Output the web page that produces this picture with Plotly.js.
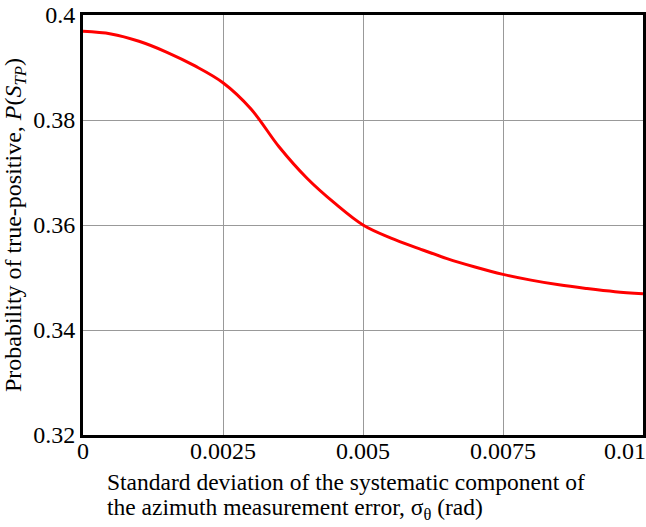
<!DOCTYPE html>
<html><head><meta charset="utf-8">
<script src="https://cdn.plot.ly/plotly-3.0.1.min.js"></script>
<style>body{margin:0;background:#fff}</style>
</head><body><div id="chart" style="width:646px;height:527px"></div>
<script>
const sigma = [0, 0.0005, 0.001, 0.0015, 0.002, 0.0025, 0.003, 0.0035, 0.004, 0.0045, 0.005, 0.0055, 0.006, 0.0065, 0.007, 0.0075, 0.008, 0.0085, 0.009, 0.0095, 0.01];
const prob  = [0.3969, 0.3964, 0.3950, 0.3929, 0.3903, 0.3871, 0.3821, 0.3749, 0.3689, 0.3641, 0.3600, 0.3575, 0.3555, 0.3536, 0.3520, 0.3506, 0.3495, 0.3486, 0.3479, 0.3473, 0.3469];
const xTickVals = [0, 0.0025, 0.005, 0.0075, 0.01];
const xTickText = ["0", "0.0025", "0.005", "0.0075", "0.01\u00a0\u00a0\u00a0\u00a0\u00a0\u00a0"];
const yTickVals = [0.32, 0.34, 0.36, 0.38, 0.4];
const yTickText = ["0.32", "0.34", "0.36", "0.38", "0.4"];
const xTitleLines = ["Standard deviation of the systematic component of", "the azimuth measurement error, σ<sub>θ</sub> (rad)"];
const yTitle = "Probability of true-positive, <i>P</i>(<i>S<sub>TP</sub></i>)";

const F = "Liberation Serif, Times New Roman, serif";
Plotly.newPlot("chart", [{
  x: sigma, y: prob, type: "scatter", mode: "lines",
  line: {color: "#ff0000", width: 3, shape: "spline", smoothing: 1}
}], {
  width: 646, height: 527,
  margin: {l: 83, r: 3, t: 15, b: 92},
  paper_bgcolor: "#fff", plot_bgcolor: "#fff",
  showlegend: false,
  font: {family: F, color: "#000", size: 24},
  xaxis: {
    range: [0, 0.01], tickvals: xTickVals, ticktext: xTickText,
    showgrid: true, gridcolor: "#999", gridwidth: 1,
    showline: true, linecolor: "#000", linewidth: 3, mirror: true,
    ticks: "", zeroline: false, tickfont: {family: F, size: 24},
    ticklabeloverflow: "allow", ticklabelstandoff: -8
  },
  yaxis: {
    range: [0.32, 0.4], tickvals: yTickVals, ticktext: yTickText,
    showgrid: true, gridcolor: "#999", gridwidth: 1,
    showline: true, linecolor: "#000", linewidth: 3, mirror: true,
    ticks: "", zeroline: false, tickfont: {family: F, size: 24},
    ticklabeloverflow: "allow",
    title: {text: yTitle, font: {family: F, size: 24}, standoff: 6}
  },
  annotations: xTitleLines.map((t, i) => ({
    xref: "paper", yref: "paper", x: 0.039, y: [-0.112, -0.176][i], xanchor: "left", yanchor: "middle",
    align: "left", showarrow: false, text: t,
    font: {family: F, size: 23.5, color: "#000"}
  }))
}, {displayModeBar: false, staticPlot: true});
</script></body></html>
